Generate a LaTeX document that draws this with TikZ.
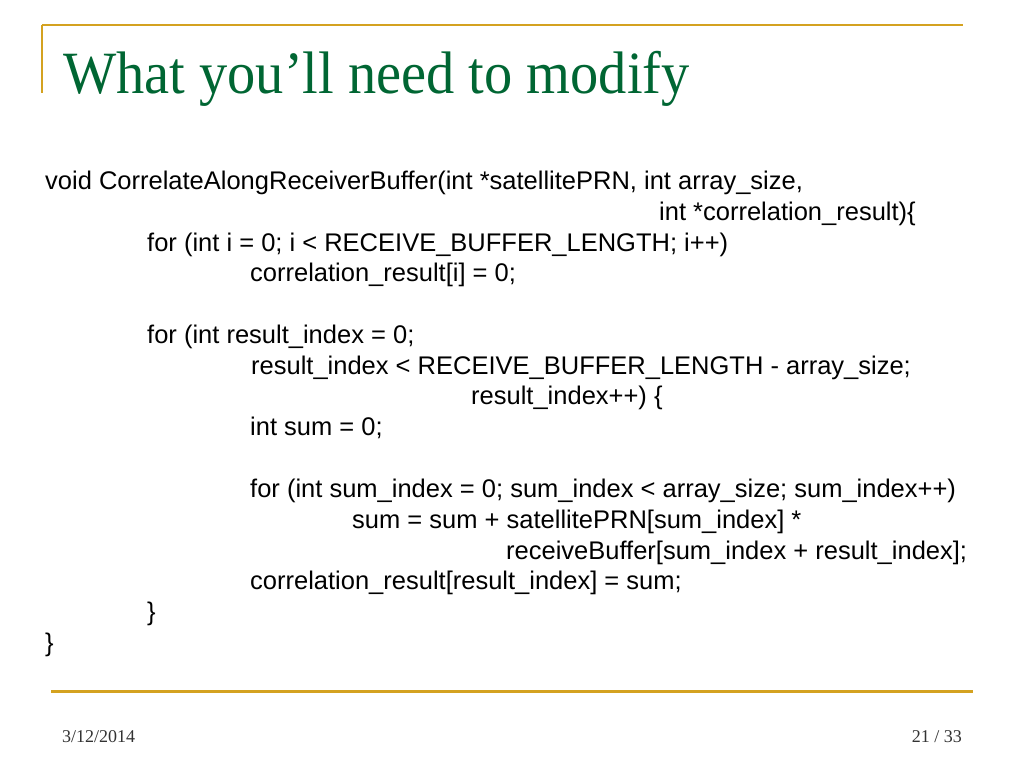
\documentclass[tikz,border=0pt]{standalone}
\usepackage{fontspec}
\setmainfont{Liberation Serif}
\setsansfont{Liberation Sans}
\newfontfamily\titlefont[FakeStretch=0.94]{Liberation Serif}
\definecolor{slidegold}{RGB}{212,162,32}
\definecolor{slidegreen}{RGB}{0,102,51}
\definecolor{footgray}{RGB}{51,51,51}
\tikzset{
  codeline/.style={anchor=base west,inner sep=0pt,font=\sffamily\fontsize{25.5}{25.5}\selectfont},
  footer/.style={inner sep=0pt,text=footgray,font=\fontsize{18}{18}\selectfont},
  rule/.style={slidegold,line width=2.5pt}
}
\begin{document}
\begin{tikzpicture}[x=1pt,y=-1pt]
    \useasboundingbox [fill=white] (0,0) rectangle (1024,768);
    % frame lines
    \draw [rule] (42,25) -- (963,25);
    \draw [rule] (42,25) -- (42,93);
    \draw [rule,line width=3pt] (51,691) -- (973,691);
    % title
    \node [anchor=base west,inner sep=0pt,text=slidegreen,font=\titlefont\fontsize{60}{60}\selectfont] (title) at (63,93) {What you’ll need to modify};
    % code
    \node [codeline] (head) at (45,189) {void CorrelateAlongReceiverBuffer(int *satellitePRN, int array\_size,};
    \node [codeline] (args) at (659,220) {int *correlation\_result)\{};
    \node [codeline] (clearfor) at (147,251) {for (int i = 0; i < RECEIVE\_BUFFER\_LENGTH; i++)};
    \node [codeline] (clearset) at (250,281) {correlation\_result[i] = 0;};
    \node [codeline] (outerfor) at (147,343) {for (int result\_index = 0;};
    \node [codeline] (outercond) at (251,374) {result\_index < RECEIVE\_BUFFER\_LENGTH - array\_size;};
    \node [codeline] (outerinc) at (471,404) {result\_index++) \{};
    \node [codeline] (suminit) at (250,435) {int sum = 0;};
    \node [codeline] (innerfor) at (250,497) {for (int sum\_index = 0; sum\_index < array\_size; sum\_index++)};
    \node [codeline] (sumadd) at (352,528) {sum = sum + satellitePRN[sum\_index] *};
    \node [codeline] (sumbuf) at (506,559) {receiveBuffer[sum\_index + result\_index];};
    \node [codeline] (store) at (250,589) {correlation\_result[result\_index] = sum;};
    \node [codeline] (outerend) at (147,620) {\}};
    \node [codeline] (funcend) at (45,651) {\}};
    % footer
    \node [footer,anchor=base west] (date) at (62,742) {3/12/2014};
    \node [footer,anchor=base east] (page) at (962,742) {21 / 33};
\end{tikzpicture}
\end{document}
